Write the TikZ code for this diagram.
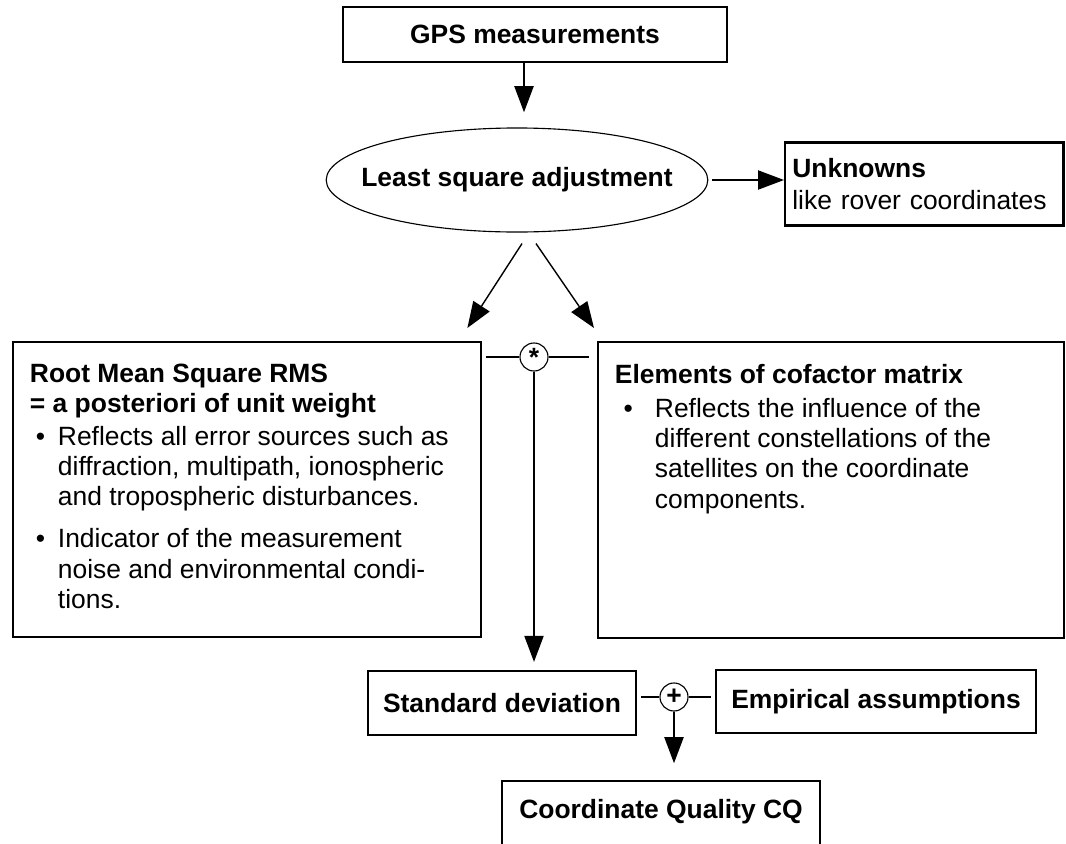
\documentclass[tikz,border=0pt]{standalone}
\usepackage{fontspec}
\setmainfont{Liberation Sans}
\usetikzlibrary{shapes.geometric,arrows.meta,positioning,calc}

% bullet with its indent, and the indent alone
\newcommand{\blt}[2]{\makebox[#2][l]{\hspace*{#1}\textbullet}}
\newcommand{\bsk}[1]{\hspace*{#1}}

\begin{document}
\begin{tikzpicture}[
    x=0.025cm, y=-0.025cm,
    font=\fontsize{18.8}{21.5}\selectfont,
    box/.style={draw, line width=1.6pt, inner sep=0pt, font=\fontsize{18.8}{21.5}\selectfont\bfseries},
    adjust/.style={ellipse, draw, line width=0.8pt, inner xsep=-0.52cm, inner ysep=0pt, font=\fontsize{18.8}{21.5}\selectfont\bfseries},
    txtbox/.style={draw, line width=1.6pt, anchor=north west, inner xsep=0.42cm, inner ysep=0.55cm},
    joint/.style={draw, circle, line width=0.8pt, minimum size=0.7cm, inner sep=0pt, font=\fontsize{18.8}{21.5}\selectfont\bfseries},
    arr/.style={-{Triangle[length=0.65cm,width=0.48cm]}, line width=1pt},
    link/.style={line width=1pt}
]
\useasboundingbox (0,0) rectangle (1066,843);

% Measurements and adjustment
\node[box, minimum width=9.6cm, minimum height=1.375cm] (gps) at (535,34.5) {GPS measurements};
\node[adjust, minimum width=9.5cm, minimum height=2.6cm] (lsa) at (517,180) {Least square adjustment};
\node[box, anchor=west, align=left, text width=6.6cm, inner xsep=0.18cm,
      minimum height=2.08cm] (unk) at (784,184) {Unknowns\\[0.05cm]\mdseries like rover coordinates};

% The two parts of the accuracy
\node[txtbox] (rms) at (12,341) {\begin{minipage}[c][6.27cm][t]{10.86cm}
\textbf{Root Mean Square RMS}\\
\textbf{= a posteriori of unit weight}\par\vspace{0.05cm}
\blt{0.15cm}{0.7cm}Reflects all error sources such as\\
\bsk{0.7cm}diffraction, multipath, ionospheric\\
\bsk{0.7cm}and tropospheric disturbances.\par\vspace{0.3cm}
\blt{0.15cm}{0.7cm}Indicator of the measurement\\
\bsk{0.7cm}noise and environmental condi-\\
\bsk{0.7cm}tions.
\end{minipage}};
\node[txtbox] (cof) at (597,341) {\begin{minipage}[c][6.3cm][t]{10.81cm}
\textbf{Elements of cofactor matrix}\par\vspace{0.1cm}
\blt{0.22cm}{1.0cm}Reflects the influence of the\\
\bsk{1.0cm}different constellations of the\\
\bsk{1.0cm}satellites on the coordinate\\
\bsk{1.0cm}components.
\end{minipage}};
\node[joint] (star) at (534,357) {\raisebox{-0.2em}{*}};

% Combination into the quality
\node[box, minimum width=6.7cm, minimum height=1.6cm] (std) at (502,703) {Standard deviation};
\node[joint] (plus) at (674,697) {+};
\node[box, minimum width=8cm, minimum height=1.575cm] (emp) at (876,701.5) {Empirical assumptions};
\node[box, anchor=north, minimum width=7.95cm, inner ysep=0.25cm, text height=0.69cm,
      text depth=1.5cm] (cq) at (661,780) {Coordinate Quality CQ};

% Connectors
\draw[arr, shorten >=0.38cm] (gps.south -| 524,0) -- (lsa.north -| 524,0);
\draw[arr, shorten <=0.1cm] (lsa.east) -- (lsa.east -| unk.west);
\draw[arr] ($(lsa.south)+(5,11)$) -- ($(rms.north east)+(-15,-13)$);
\draw[arr] ($(lsa.south)+(19,11)$) -- ($(cof.north west)+(-3,-13)$);
\draw[link] (star.west) -- ++(-33,0);
\draw[link] (star.east) -- ++(40,0);
\draw[arr, shorten >=0.2cm] (star.south) -- (star.south |- std.north);
\draw[link, shorten <=0.1cm] (std.east |- plus.west) -- (plus.west);
\draw[link, shorten >=0.1cm] (plus.east) -- (plus.east -| emp.west);
\draw[arr, shorten >=0.42cm] (plus.south) -- (plus.south |- cq.north);
\end{tikzpicture}
\end{document}
